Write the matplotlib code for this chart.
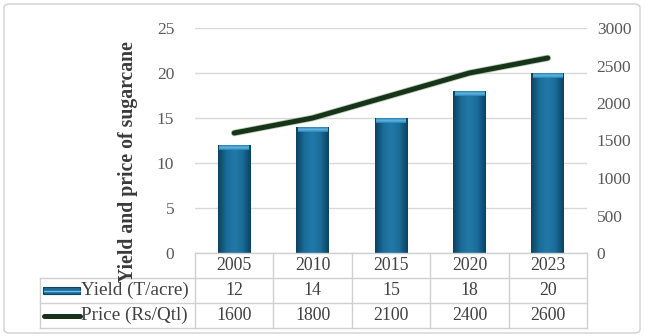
import matplotlib
matplotlib.use("Agg")
import matplotlib.pyplot as plt
import numpy as np
from matplotlib.patches import Rectangle, FancyBboxPatch
from matplotlib.lines import Line2D
import matplotlib.patheffects as pe
from matplotlib.colors import LinearSegmentedColormap

years = ["2005", "2010", "2015", "2020", "2023"]
yield_vals = [12, 14, 15, 18, 20]
price_vals = [1600, 1800, 2100, 2400, 2600]
row_labels = ["Yield (T/acre)", "Price (Rs/Qtl)"]
ylabel = "Yield and price of sugarcane"

plt.rcParams['font.family'] = ['Liberation Serif', 'DejaVu Serif']

W, H = 645, 336
fig = plt.figure(figsize=(W / 100, H / 100), dpi=100)

# chart-area border
fig.add_artist(FancyBboxPatch((4 / W, 3 / H), 636 / W, 329 / H,
                              boxstyle="round,pad=0,rounding_size=0.01",
                              transform=fig.transFigure, fill=False,
                              ec="#d0d0d0", lw=1.0))

ax_l, ax_r, ax_t, ax_b = 195, 587, 28, 253
ax = fig.add_axes([ax_l / W, 1 - ax_b / H, (ax_r - ax_l) / W, (ax_b - ax_t) / H])
x = np.arange(len(years))
ax.set_yticks(np.arange(0, 26, 5))
ax.set_xticks([])
for s in ax.spines.values():
    s.set_visible(False)
ax.tick_params(axis='y', length=0, pad=15, labelsize=12.5, labelcolor="#595959")
ax.grid(axis='y', color="#d9d9d9", lw=1)
ax.set_axisbelow(True)

bars = ax.bar(x, yield_vals, width=0.42, color="#1b6a96", zorder=2)
cmap = LinearSegmentedColormap.from_list("b", ["#0c4262", "#1a6c99", "#2279a8", "#1a6c99", "#0c4262"])
grad = np.linspace(0, 1, 64).reshape(1, -1)
capmap = LinearSegmentedColormap.from_list("c", ["#2d86b8", "#6cc0ea", "#2d86b8"])
for b in bars:
    x0, w, h = b.get_x(), b.get_width(), b.get_height()
    im = ax.imshow(grad, cmap=cmap, extent=[x0, x0 + w, 0, h], aspect='auto', zorder=3)
    im.set_clip_path(b)
    cap = np.linspace(0, 1, 16).reshape(-1, 1)
    im2 = ax.imshow(cap, cmap=capmap, extent=[x0 + w * 0.05, x0 + w * 0.95, h - 0.55, h - 0.05],
                    aspect='auto', zorder=4, alpha=0.9)
ax.set_xlim(-0.5, len(years) - 0.5)
ax.set_ylim(0, 25)

ax2 = ax.twinx()
ax2.set_ylim(0, 3000)
ax2.set_yticks(np.arange(0, 3001, 500))
for s in ax2.spines.values():
    s.set_visible(False)
ax2.tick_params(axis='y', length=0, pad=7, labelsize=12.5, labelcolor="#595959")
ax2.plot(x, price_vals, color="#17331a", lw=3.6, solid_capstyle='round', zorder=5,
         path_effects=[pe.Stroke(linewidth=4.8, foreground="#5f8f55", alpha=0.45), pe.Normal()])

fig.text(128 / W, 1 - 162 / H, ylabel, rotation=90, ha='center', va='center',
         fontsize=14.2, fontweight='bold', color="#3a3a3a")

# data table
tcol = "#d0d0d0"
row_h = 25
col_x = [ax_l + i * (ax_r - ax_l) / len(years) for i in range(len(years) + 1)]
lab_left = 40
tops = [ax_b, ax_b + row_h, ax_b + 2 * row_h, ax_b + 3 * row_h]

def fl(x0, y0, x1, y1):
    fig.add_artist(Line2D([x0 / W, x1 / W], [1 - y0 / H, 1 - y1 / H], color=tcol, lw=1,
                          transform=fig.transFigure))

for yy in tops:
    fl(col_x[0] if yy == tops[0] else lab_left, yy, col_x[-1], yy)
for cx in col_x:
    fl(cx, tops[0], cx, tops[-1])
fl(lab_left, tops[1], lab_left, tops[-1])

tsize = 12.8
for i, yr in enumerate(years):
    cx = (col_x[i] + col_x[i + 1]) / 2
    fig.text(cx / W, 1 - (tops[0] + row_h / 2) / H, yr, ha='center', va='center', fontsize=tsize, color="#404040")
    fig.text(cx / W, 1 - (tops[1] + row_h / 2) / H, str(yield_vals[i]), ha='center', va='center', fontsize=tsize, color="#404040")
    fig.text(cx / W, 1 - (tops[2] + row_h / 2) / H, str(price_vals[i]), ha='center', va='center', fontsize=tsize, color="#404040")

for r, lab in enumerate(row_labels):
    cy = tops[r + 1] + row_h / 2
    fig.text(81 / W, 1 - cy / H, lab, ha='left', va='center', fontsize=13.8, color="#404040")

# legend keys
fig.add_artist(Rectangle((43 / W, 1 - (tops[1] + 16) / H), 37 / W, 7 / H, transform=fig.transFigure,
                         facecolor="#1b6a96", edgecolor="#0e4566", lw=0.8))
fig.add_artist(Line2D([44 / W, 80 / W], [1 - (tops[1] + 12.5) / H] * 2, color="#6cc0ea", lw=1,
                      transform=fig.transFigure))
fig.add_artist(Line2D([44 / W, 80 / W], [1 - (tops[2] + 13) / H] * 2, color="#17331a", lw=3.6,
                      transform=fig.transFigure, solid_capstyle='round'))

fig.savefig("out.png", dpi=100)
